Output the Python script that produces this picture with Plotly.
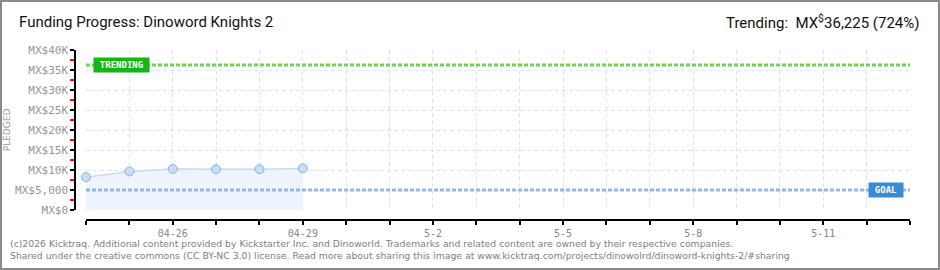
import plotly.graph_objects as go

# ---- data ----
dates = ["2026-04-24", "2026-04-25", "2026-04-26", "2026-04-27", "2026-04-28", "2026-04-29"]
pledged = [8200, 9650, 10250, 10200, 10200, 10400]

goal = 5000
trending = 36225

x_start = "2026-04-24"
x_end = "2026-05-13"

label_days = ["2026-04-26", "2026-04-29", "2026-05-02", "2026-05-05", "2026-05-08", "2026-05-11"]
day_labels = ["04-26", "04-29", "5-2", "5-5", "5-8", "5-11"]

y_ticks = [0, 5000, 10000, 15000, 20000, 25000, 30000, 35000, 40000]
y_labels = ["MX$0", "MX$5,000", "MX$10K", "MX$15K", "MX$20K", "MX$25K", "MX$30K", "MX$35K", "MX$40K"]
y_minor = [2500, 7500, 12500, 17500, 22500, 27500, 32500, 37500]

W, H = 940, 270
ML, MR, MT, MB = 75, 30, 50, 50
PW, PH = W - ML - MR, H - MT - MB

fig = go.Figure()
fig.add_trace(go.Scatter(
    x=dates, y=pledged, mode="lines+markers",
    line=dict(color="#c4dbf3", width=1.5),
    fill="tozeroy", fillcolor="#edf4fd",
    marker=dict(size=9, color="#c6ddf6", line=dict(color="#90b2da", width=1)),
    hoverinfo="skip", showlegend=False, cliponaxis=False,
))

grid = "#e2e2e2"
fig.update_layout(
    width=W, height=H,
    margin=dict(l=ML, r=MR, t=MT, b=MB, autoexpand=False),
    paper_bgcolor="white", plot_bgcolor="white",
    font=dict(family="DejaVu Sans", color="#888"),
    xaxis=dict(
        type="date", range=[x_start, x_end], domain=[11 / PW, 1],
        anchor="free", position=0, automargin=False,
        tickvals=label_days, ticktext=day_labels,
        showgrid=True, gridcolor=grid, griddash="4px,3px", gridwidth=1,
        showline=True, linecolor="black", linewidth=1.5,
        ticks="outside", ticklen=4, tickcolor="black", tickwidth=1.5,
        minor=dict(dtick=86400000, tick0=x_start, ticks="outside", ticklen=4, tickcolor="black",
                   tickwidth=1.5, showgrid=True, gridcolor=grid, griddash="4px,3px", gridwidth=1),
        tickfont=dict(size=10, color="#888", family="DejaVu Sans Mono"),
        zeroline=False,
    ),
    yaxis=dict(
        range=[0, 40000], domain=[10 / PH, 1],
        anchor="free", position=0, automargin=False,
        tickvals=y_ticks, ticktext=y_labels,
        showgrid=True, gridcolor=grid, griddash="4px,3px", gridwidth=1,
        showline=True, linecolor="black", linewidth=1.5,
        ticks="outside", ticklen=4, tickcolor="black", tickwidth=1.5,
        tickfont=dict(size=11, color="#959595", family="DejaVu Sans Mono"),
        minor=dict(tickvals=y_minor, ticks="outside", ticklen=4, tickcolor="red", tickwidth=1.5, showgrid=False),
        zeroline=False,
        title=dict(text="PLEDGED", font=dict(size=9, color="#999"), standoff=2),
    ),
)

# goal & trending lines
fig.add_shape(type="line", xref="x", yref="y", x0=x_start, x1=x_end, y0=trending, y1=trending,
              line=dict(color="#6fd25a", width=3, dash="4px,2px"), layer="above")
fig.add_shape(type="line", xref="x", yref="y", x0=x_start, x1=x_end, y0=goal, y1=goal,
              line=dict(color="#93b8e4", width=3, dash="4px,2px"), layer="above")

# label boxes
fig.add_annotation(x=x_start, y=trending, xref="x", yref="y", xanchor="left", yanchor="middle",
                   xshift=7, text="<b>TRENDING</b>", showarrow=False,
                   font=dict(size=9, color="white", family="DejaVu Sans Mono"),
                   bgcolor="#17b417", borderpad=2, width=51)
fig.add_annotation(x=x_end, y=goal, xref="x", yref="y", xanchor="right", yanchor="middle",
                   xshift=-6, text="<b>GOAL</b>", showarrow=False,
                   font=dict(size=9, color="white", family="DejaVu Sans Mono"),
                   bgcolor="#3a8ad8", borderpad=2, width=30)

# title texts
fig.add_annotation(xref="paper", yref="paper", x=(17 - ML) / PW, y=1 + (MT - 22) / PH,
                   xanchor="left", yanchor="middle", showarrow=False,
                   text="Funding Progress: Dinoword Knights 2",
                   font=dict(size=15, color="#111", family="Roboto"))
fig.add_annotation(xref="paper", yref="paper", x=(921 - ML) / PW, y=1 + (MT - 22) / PH,
                   xanchor="right", yanchor="middle", showarrow=False,
                   text="Trending:  MX<sup>$</sup>36,225 (724%)",
                   font=dict(size=15, color="#111", family="Roboto"))

# footer
fig.add_annotation(xref="paper", yref="paper", x=(8 - ML) / PW, y=-(243 - (H - MB)) / PH,
                   xanchor="left", yanchor="middle", showarrow=False, align="left",
                   text="(c)2026 Kicktraq. Additional content provided by Kickstarter Inc. and Dinoworld. Trademarks and related content are owned by their respective companies.",
                   font=dict(size=9.3, color="#808080", family="DejaVu Sans"))
fig.add_annotation(xref="paper", yref="paper", x=(8 - ML) / PW, y=-(255 - (H - MB)) / PH,
                   xanchor="left", yanchor="middle", showarrow=False, align="left",
                   text="Shared under the creative commons (CC BY-NC 3.0) license. Read more about sharing this image at www.kicktraq.com/projects/dinowolrd/dinoword-knights-2/#sharing",
                   font=dict(size=9.3, color="#808080", family="DejaVu Sans"))

# outer border
fig.add_shape(type="rect", xref="paper", yref="paper",
              x0=-(ML - 1) / PW, x1=(W - ML - 1) / PW,
              y0=-(MB - 1) / PH, y1=1 + (MT - 1) / PH,
              line=dict(color="#8a8a8a", width=2), fillcolor="rgba(0,0,0,0)", layer="above")

fig.write_html("out.html")
